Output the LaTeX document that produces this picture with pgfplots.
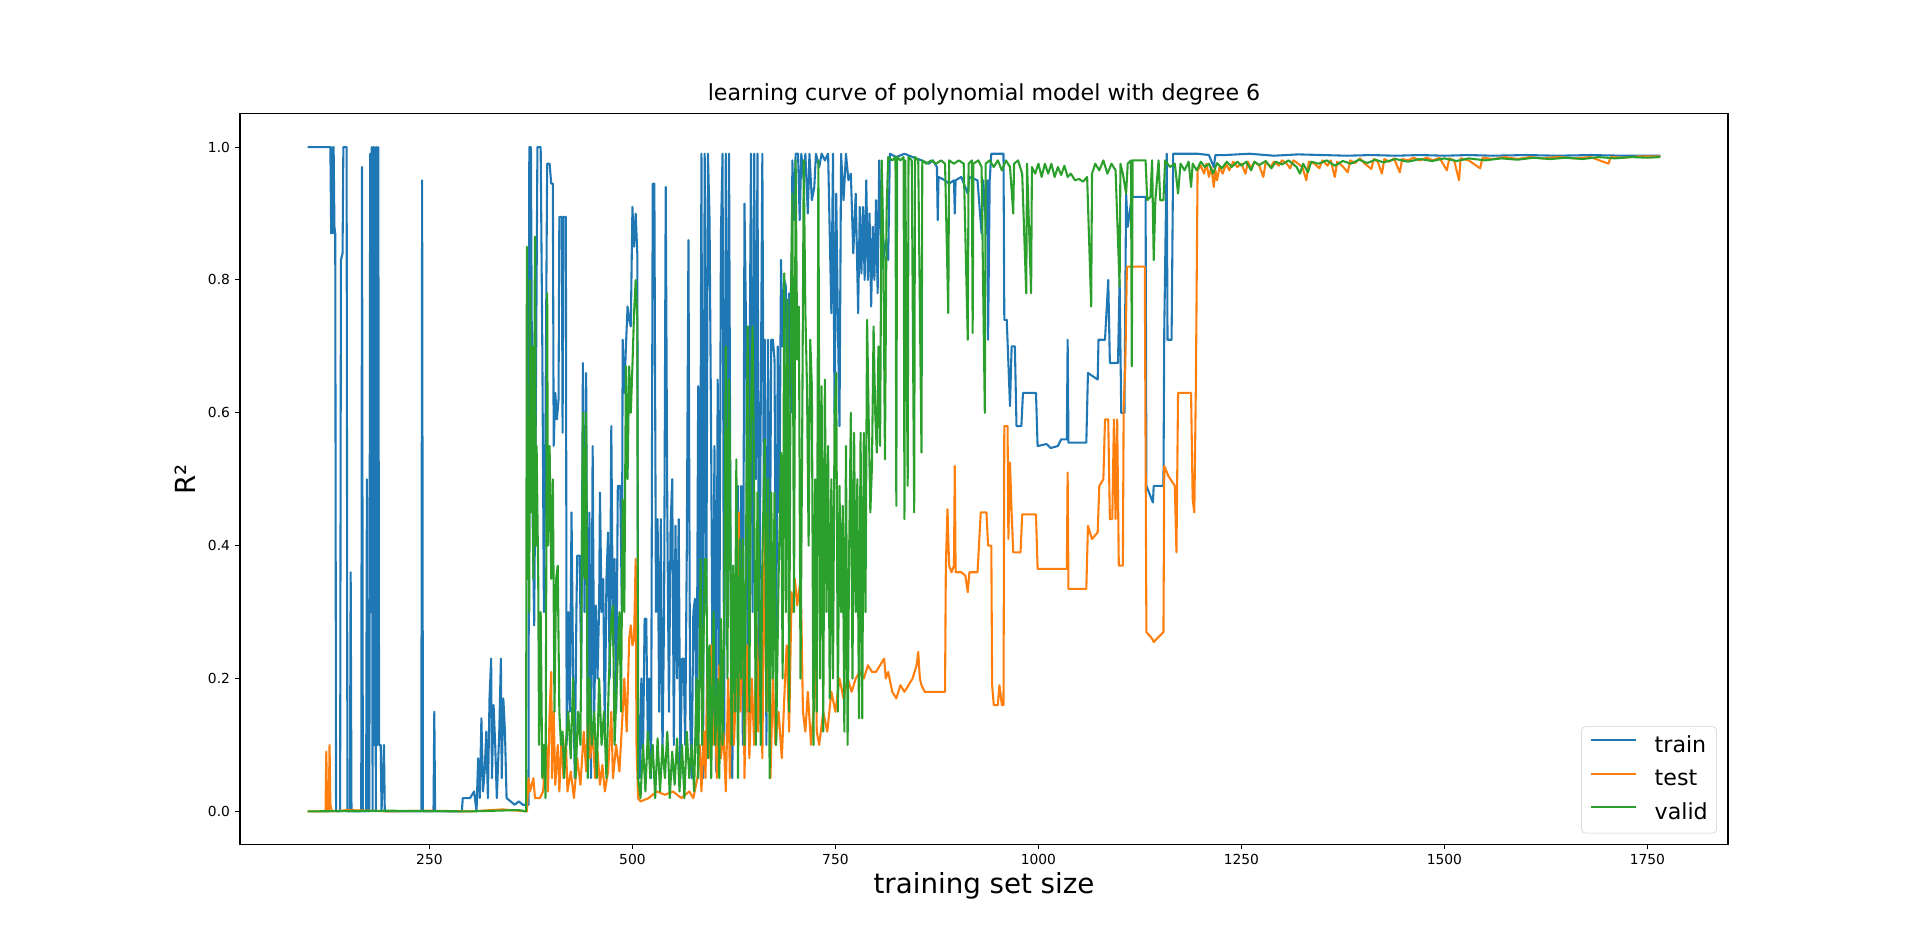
\documentclass[border=0pt]{standalone}
\usepackage{pgfplots}
\pgfplotsset{compat=1.18}
\usepackage{fontspec}
\setmainfont{DejaVu Sans}
\definecolor{c0}{HTML}{1F77B4}
\definecolor{c1}{HTML}{FF7F0E}
\definecolor{c2}{HTML}{2CA02C}
\begin{document}
\begin{tikzpicture}
\useasboundingbox (0,0) rectangle (1382.4bp,683.28bp);
\begin{axis}[
  name=ax,
  at={(172.8bp,75.16bp)}, anchor=south west,
  scale only axis, width=1071.36bp, height=526.13bp,
  xmin=16.7, xmax=1849.3, ymin=-0.05, ymax=1.05,
  axis line style={line width=0.8bp},
  tick align=outside, xtick pos=left, ytick pos=left,
  major tick length=3.5bp,
  every tick/.style={black, line width=0.8bp},
  xtick={250,500,750,1000,1250,1500,1750},
  ytick={0,0.2,0.4,0.6,0.8,1.0},
  scaled x ticks=false, scaled y ticks=false,
  /pgf/number format/assume math mode=true,
  xticklabel style={font=\fontsize{10}{12}\selectfont, /pgf/number format/1000 sep={}, inner sep=0pt, yshift=-3.5bp},
  yticklabel style={font=\fontsize{10}{12}\selectfont, /pgf/number format/.cd, fixed, fixed zerofill, precision=1, /tikz/.cd, inner sep=0pt, xshift=-3.5bp},
  legend cell align=left,
  legend style={at={(1,0)}, anchor=south east, xshift=-8bp, yshift=8bp,
    draw=black!20, rounded corners=3bp, fill=white,
    inner xsep=6.4bp, inner ysep=6.4bp,
    font=\fontsize{16}{19}\selectfont,
    nodes={inner sep=0pt, text height=12.2bp, text depth=3.8bp},
    row sep=8bp,
    /tikz/every odd column/.append style={column sep=12.8bp}},
  legend image code/.code={\draw[#1] (0bp,4.5bp) -- (32bp,4.5bp);},
  every axis plot/.append style={line width=1.5bp, line join=round},
]
% train
\addplot[c0] coordinates {
(100,1.0) (128,1.0) (129,0.87) (130,1.0) (131,0.87) (132,1.0) (133,0.88) (134,0.87) (135,0.0) (140,0.0) (141,0.83) (143,0.84) (144,1.0) (148,1.0) (149,0.0) (152,0.0) (153,0.36) (154,0.0) (166,0.0) (167,0.97) (168,0.0) (172,0.0) (173,0.5) (174,0.0) (176,0.0) (177,0.99) (178,0.3) (179,1.0) (180,0.0) (181,1.0) (182,0.1) (183,1.0) (184,0.0) (185,1.0) (186,0.1) (187,1.0) (188,0.1) (190,0.1) (191,0.0) (194,0.1) (195,0.0) (240,0.0) (241,0.95) (242,0.0) (255,0.0) (256,0.15) (257,0.0) (290,0.0) (291,0.02) (300,0.02) (305,0.03) (308,0.0) (310,0.08) (312,0.02) (314,0.14) (316,0.03) (318,0.06) (320,0.12) (322,0.02) (324,0.17) (326,0.23) (327,0.05) (329,0.16) (331,0.1) (333,0.02) (336,0.12) (338,0.23) (339,0.05) (341,0.17) (343,0.12) (345,0.02) (350,0.015) (355,0.01) (360,0.015) (365,0.01) (372,0.01)
(373,1.0) (375,1.0) (377,0.45) (379,0.28) (381,0.6) (383,1.0) (387,1.0) (389,0.7) (391,0.3) (393,0.6) (395,0.975) (398,0.975) (400,0.945) (402,0.945) (403,0.55) (405,0.63) (407,0.59) (409,0.62) (410,0.895) (413,0.895) (414,0.57) (415,0.895) (418,0.895) (419,0.1) (421,0.3) (423,0.15) (425,0.45) (427,0.2) (429,0.05) (431,0.3) (432,0.385) (435,0.385) (437,0.2) (439,0.675) (441,0.3) (443,0.66) (445,0.1) (447,0.45) (449,0.05) (451,0.55) (453,0.15) (455,0.31) (457,0.2) (459,0.31) (460,0.48) (462,0.3) (464,0.35) (466,0.12) (468,0.35) (470,0.42) (472,0.2) (474,0.58) (476,0.25) (478,0.38) (480,0.15) (482,0.49) (485,0.49) (487,0.3) (488,0.71) (490,0.63) (492,0.7) (494,0.76) (496,0.74) (498,0.73) (500,0.91) (502,0.85) (504,0.9) (506,0.84) (507,0.15) (509,0.05) (511,0.2) (513,0.08) (515,0.29) (517,0.29) (519,0.1) (521,0.2) (523,0.05) (525,0.945) (527,0.945) (529,0.3) (531,0.44) (533,0.15) (535,0.44) (537,0.08) (539,0.3) (541,0.94) (543,0.44) (545,0.15) (547,0.43) (549,0.5) (551,0.1) (553,0.43) (555,0.2) (557,0.44) (559,0.05) (561,0.23) (563,0.23) (565,0.1) (567,0.4) (569,0.86) (571,0.15) (573,0.05) (575,0.3) (577,0.32) (579,0.1) (581,0.64) (583,0.2) (585,0.99) (587,0.05) (589,0.99) (591,0.3) (593,0.99) (595,0.89) (597,0.55) (599,0.1) (601,0.55) (603,0.06) (605,0.65) (607,0.2) (609,0.87) (611,0.99) (613,0.1) (615,0.99) (617,0.4) (619,0.99) (621,0.34) (623,0.05) (625,0.34) (627,0.15) (630,0.49) (632,0.2) (634,0.49) (636,0.1) (638,0.915) (640,0.72) (642,0.15) (644,0.6) (646,0.99) (648,0.3) (650,0.99) (652,0.5) (654,0.99) (656,0.2) (658,0.6) (660,0.99) (662,0.4) (663,0.71) (665,0.1) (667,0.71) (669,0.3) (671,0.71) (673,0.71) (675,0.68) (677,0.2) (679,0.7) (681,0.45) (683,0.83) (685,0.7) (687,0.8) (689,0.79) (691,0.54) (693,0.78) (695,0.6) (697,0.98) (699,0.89) (701,0.99) (704,0.99) (706,0.89) (708,0.99) (711,0.95) (713,0.99) (716,0.9) (718,0.99) (721,0.92) (724,0.94) (726,0.99) (730,0.97) (733,0.99) (737,0.98) (741,0.99) (745,0.75) (747,0.99) (749,0.58) (751,0.93) (753,0.74) (755,0.58) (757,0.99) (760,0.92) (763,0.99) (766,0.95) (769,0.96) (772,0.84) (775,0.93) (778,0.75) (780,0.91) (782,0.81) (784,0.91) (786,0.8) (788,0.95) (790,0.8) (792,0.9) (794,0.76) (796,0.88) (798,0.8) (800,0.92) (802,0.78) (804,0.98) (806,0.87) (809,0.83) (812,0.86) (815,0.83) (817,0.99) (825,0.985) (835,0.99) (845,0.985) (856,0.98) (865,0.975) (870,0.98) (875,0.97) (876,0.89) (877,0.955) (885,0.95) (890,0.945) (896,0.95) (897,0.9) (898,0.95) (905,0.955) (913,0.93) (915,0.955) (925,0.95) (930,0.87) (932,0.95) (936,0.87) (937,0.95) (938,0.71) (940,0.95) (942,0.99) (957,0.99) (958,0.74) (961,0.74) (965,0.61) (967,0.7) (971,0.7) (973,0.58) (979,0.58) (981,0.63) (997,0.63) (999,0.55) (1010,0.553) (1015,0.547) (1024,0.55) (1028,0.56) (1035,0.56) (1036,0.71) (1037,0.555) (1059,0.555) (1061,0.66) (1073,0.65) (1074,0.71) (1082,0.71) (1086,0.8) (1088,0.675) (1098,0.675) (1100,0.8) (1102,0.6) (1106,0.6) (1108,0.93) (1110,0.88) (1115,0.925) (1132,0.925) (1133,0.49) (1141,0.465) (1142,0.49) (1154,0.49) (1155,0.725) (1158,0.99) (1159,0.71) (1164,0.71) (1166,0.99) (1196,0.99) (1210,0.988) (1216,0.97) (1218,0.988) (1230,0.988) (1260,0.99) (1290,0.987) (1320,0.989) (1350,0.988) (1380,0.987) (1410,0.988) (1440,0.987) (1470,0.988) (1500,0.987) (1530,0.988) (1560,0.987) (1600,0.988) (1640,0.987) (1680,0.988) (1720,0.987) (1766,0.987)
};
\addlegendentry{train}
% test
\addplot[c1] coordinates {
(100,0.0) (122,0.0) (123,0.09) (124,0.0) (126,0.0) (127,0.1) (128,0.01) (130,0.0) (150,0.002) (200,0.0) (250,0.001) (300,0.0) (340,0.003) (370,0.0)
(372,0.05) (374,0.03) (378,0.05) (380,0.02) (386,0.02) (390,0.03) (394,0.1) (396,0.03) (398,0.15) (400,0.21) (401,0.05) (403,0.15) (405,0.04) (408,0.1) (410,0.03) (413,0.12) (415,0.05) (418,0.11) (420,0.03) (424,0.06) (428,0.02) (432,0.08) (436,0.04) (440,0.12) (443,0.06) (446,0.17) (448,0.08) (451,0.12) (454,0.05) (457,0.09) (460,0.04) (463,0.07) (466,0.03) (470,0.06) (474,0.15) (476,0.05) (480,0.1) (484,0.06) (488,0.15) (490,0.2) (493,0.12) (496,0.26) (498,0.28) (500,0.25) (502,0.26) (504,0.38) (505,0.1) (507,0.02) (510,0.015) (520,0.02) (530,0.03) (540,0.025) (550,0.03) (560,0.02) (570,0.03) (575,0.02) (580,0.05) (583,0.1) (585,0.03) (588,0.12) (590,0.05) (592,0.2) (594,0.08) (597,0.25) (599,0.1) (602,0.15) (604,0.05) (607,0.22) (609,0.08) (612,0.12) (615,0.03) (618,0.2) (620,0.05) (623,0.3) (625,0.1) (628,0.2) (631,0.45) (633,0.15) (636,0.35) (638,0.05) (641,0.25) (644,0.08) (647,0.2) (650,0.1) (653,0.28) (655,0.12) (658,0.3) (660,0.08) (663,0.45) (665,0.15) (668,0.35) (670,0.05) (673,0.2) (676,0.1) (680,0.15) (684,0.08) (688,0.2) (690,0.25) (693,0.12) (696,0.33) (698,0.3) (700,0.35) (703,0.31) (706,0.34) (708,0.3) (710,0.15) (713,0.12) (716,0.18) (720,0.1) (723,0.15) (726,0.26) (727,0.12) (730,0.1) (735,0.15) (740,0.12) (745,0.18) (750,0.15) (755,0.2) (760,0.17) (765,0.2) (770,0.18) (775,0.2) (780,0.21) (785,0.2) (790,0.22) (795,0.21) (800,0.21) (805,0.22) (810,0.23) (812,0.2) (815,0.21) (820,0.18) (825,0.17) (830,0.19) (835,0.18) (840,0.19) (845,0.2) (850,0.22) (852,0.24) (854,0.2) (856,0.19) (860,0.18) (870,0.18) (880,0.18) (885,0.18) (886,0.37) (888,0.455) (890,0.37) (893,0.36) (896,0.37) (897,0.52) (898,0.36) (905,0.36) (910,0.355) (913,0.33) (915,0.36) (925,0.36) (929,0.45) (936,0.45) (938,0.40) (942,0.40) (943,0.19) (945,0.16) (950,0.16) (952,0.19) (955,0.16) (957,0.16) (958,0.58) (962,0.58) (963,0.41) (965,0.525) (967,0.45) (969,0.39) (978,0.39) (980,0.447) (997,0.447) (999,0.365) (1035,0.365) (1036,0.51) (1037,0.335) (1059,0.335) (1061,0.43) (1066,0.41) (1073,0.42) (1075,0.49) (1080,0.5) (1082,0.59) (1086,0.59) (1088,0.44) (1091,0.44) (1093,0.59) (1095,0.44) (1097,0.59) (1099,0.37) (1104,0.37) (1105,0.61) (1107,0.67) (1109,0.82) (1131,0.82) (1133,0.27) (1140,0.26) (1142,0.255) (1150,0.265) (1154,0.27) (1155,0.52) (1160,0.505) (1168,0.49) (1170,0.39) (1172,0.63) (1188,0.63) (1190,0.47) (1192,0.45) (1194,0.65) (1196,0.965)
(1200,0.972) (1204,0.96) (1207,0.975) (1210,0.955) (1213,0.97) (1216,0.94) (1218,0.965) (1220,0.95) (1223,0.97) (1227,0.96) (1231,0.975) (1235,0.965) (1240,0.978) (1245,0.97) (1250,0.975) (1255,0.96) (1258,0.978) (1262,0.968) (1266,0.978) (1272,0.972) (1277,0.955) (1280,0.978) (1286,0.97) (1290,0.978) (1296,0.972) (1300,0.98) (1306,0.975) (1310,0.968) (1314,0.98) (1320,0.975) (1325,0.97) (1330,0.95) (1333,0.978) (1340,0.975) (1346,0.968) (1350,0.98) (1356,0.972) (1360,0.98) (1365,0.955) (1368,0.978) (1374,0.972) (1381,0.962) (1384,0.98) (1390,0.976) (1396,0.983) (1402,0.975) (1410,0.967) (1413,0.982) (1418,0.978) (1423,0.96) (1426,0.982) (1432,0.978) (1438,0.983) (1445,0.962) (1448,0.982) (1455,0.98) (1462,0.984) (1470,0.98) (1478,0.984) (1486,0.98) (1494,0.984) (1503,0.965) (1506,0.983) (1512,0.98) (1518,0.95) (1520,0.983) (1530,0.98) (1544,0.968) (1547,0.984) (1560,0.982) (1575,0.985) (1590,0.982) (1605,0.985) (1620,0.983) (1640,0.985) (1660,0.983) (1680,0.985) (1702,0.975) (1705,0.985) (1720,0.984) (1740,0.986) (1766,0.986)
};
\addlegendentry{test}
% valid
\addplot[c2] coordinates {
(100,0.0) (200,0.001) (300,0.0) (360,0.002) (369,0.0)
(370,0.85) (371,0.35) (372,0.55) (373,0.3) (374,0.8) (375,0.55) (376,0.45) (377,0.7) (378,0.35) (380,0.865) (381,0.4) (382,0.55) (384,0.35) (385,0.1) (387,0.3) (389,0.05) (391,0.1) (393,0.02) (395,0.78) (396,0.4) (398,0.55) (400,0.35) (402,0.5) (404,0.15) (406,0.35) (408,0.37) (410,0.15) (412,0.1) (414,0.12) (416,0.05) (418,0.1) (421,0.15) (424,0.08) (427,0.2) (430,0.05) (433,0.15) (436,0.1) (439,0.6) (441,0.35) (443,0.6) (445,0.05) (447,0.2) (450,0.1) (453,0.15) (456,0.05) (459,0.2) (462,0.1) (465,0.15) (468,0.05) (471,0.2) (474,0.29) (476,0.31) (478,0.1) (481,0.2) (484,0.3) (486,0.15) (488,0.47) (490,0.3) (492,0.67) (494,0.5) (496,0.67) (498,0.6) (500,0.67) (502,0.75) (504,0.8) (506,0.74) (507,0.05) (510,0.02) (513,0.1) (516,0.03) (519,0.12) (522,0.05) (525,0.1) (528,0.02) (531,0.11) (534,0.03) (537,0.1) (540,0.05) (543,0.12) (546,0.02) (549,0.09) (552,0.04) (555,0.11) (558,0.03) (561,0.1) (564,0.02) (567,0.12) (570,0.05) (573,0.1) (576,0.03) (579,0.2) (581,0.05) (584,0.38) (586,0.1) (589,0.38) (591,0.38) (593,0.08) (595,0.25) (597,0.05) (600,0.3) (602,0.1) (605,0.2) (607,0.05) (609,0.29) (611,0.1) (613,0.29) (615,0.7) (617,0.2) (619,0.65) (620,0.55) (622,0.1) (624,0.37) (626,0.15) (628,0.53) (630,0.05) (632,0.41) (634,0.2) (636,0.41) (638,0.1) (640,0.41) (642,0.73) (644,0.15) (646,0.6) (648,0.73) (650,0.48) (652,0.1) (654,0.48) (656,0.38) (658,0.1) (660,0.38) (663,0.56) (665,0.15) (667,0.5) (669,0.05) (671,0.48) (673,0.2) (675,0.48) (677,0.1) (680,0.35) (683,0.54) (685,0.2) (687,0.81) (689,0.3) (691,0.77) (693,0.15) (695,0.76) (697,0.93) (699,0.3) (701,0.98) (703,0.68) (705,0.76) (707,0.2) (709,0.55) (711,0.98) (713,0.75) (715,0.64) (717,0.4) (719,0.71) (721,0.64) (723,0.1) (725,0.5) (727,0.15) (729,0.98) (731,0.2) (733,0.64) (735,0.12) (737,0.65) (739,0.3) (741,0.55) (743,0.17) (745,0.5) (747,0.2) (749,0.6) (751,0.66) (753,0.15) (755,0.49) (757,0.3) (759,0.46) (761,0.12) (763,0.55) (765,0.1) (767,0.4) (769,0.6) (771,0.2) (773,0.57) (775,0.3) (777,0.5) (779,0.14) (781,0.57) (783,0.14) (785,0.57) (787,0.3) (789,0.74) (791,0.59) (793,0.45) (795,0.52) (797,0.73) (799,0.6) (801,0.54) (803,0.7) (805,0.55) (807,0.98) (809,0.86) (811,0.53) (813,0.9) (815,0.985) (820,0.98) (824,0.985) (825,0.46) (826,0.985) (830,0.98) (834,0.985) (835,0.44) (836,0.98) (839,0.49) (840,0.985) (844,0.98) (847,0.45) (848,0.985) (852,0.98) (856,0.54) (857,0.98) (862,0.975) (868,0.98) (874,0.975) (880,0.98) (885,0.975) (889,0.75) (890,0.98) (896,0.975) (902,0.98) (908,0.975) (913,0.71) (914,0.975) (918,0.98) (919,0.72) (920,0.975) (926,0.98) (930,0.97) (934,0.6) (935,0.975) (940,0.98) (945,0.97) (950,0.98) (955,0.965) (960,0.98) (965,0.97) (969,0.9) (970,0.975) (975,0.98) (980,0.96) (985,0.78) (986,0.975) (991,0.78) (992,0.97) (996,0.96) (1000,0.975) (1004,0.955) (1008,0.975) (1012,0.96) (1016,0.975) (1020,0.955) (1024,0.97) (1028,0.958) (1032,0.972) (1036,0.955) (1040,0.96) (1045,0.95) (1050,0.952) (1055,0.948) (1060,0.955) (1065,0.76) (1066,0.96) (1070,0.975) (1075,0.965) (1080,0.98) (1085,0.96) (1090,0.975) (1095,0.965) (1100,0.79) (1101,0.975) (1104,0.96) (1108,0.93) (1110,0.975) (1114,0.98) (1115,0.67) (1116,0.98) (1125,0.98) (1132,0.98) (1134,0.92) (1138,0.925) (1140,0.98) (1142,0.83) (1144,0.92) (1148,0.98) (1150,0.92) (1154,0.92) (1156,0.98) (1162,0.97) (1168,0.975)
(1172,0.93) (1175,0.975) (1180,0.965) (1185,0.978) (1188,0.94) (1190,0.975) (1195,0.965) (1200,0.978) (1205,0.97) (1210,0.975) (1215,0.96) (1220,0.976) (1226,0.968) (1232,0.978) (1238,0.97) (1245,0.978) (1250,0.972) (1256,0.978) (1262,0.965) (1266,0.978) (1272,0.973) (1280,0.979) (1287,0.968) (1292,0.978) (1300,0.974) (1308,0.98) (1318,0.97) (1322,0.96) (1326,0.975) (1332,0.962) (1336,0.978) (1345,0.975) (1355,0.98) (1365,0.972) (1375,0.979) (1385,0.975) (1395,0.981) (1405,0.976) (1415,0.981) (1425,0.977) (1440,0.982) (1455,0.978) (1470,0.982) (1485,0.979) (1500,0.983) (1515,0.979) (1530,0.983) (1550,0.98) (1570,0.983) (1590,0.981) (1610,0.984) (1630,0.982) (1650,0.984) (1670,0.982) (1690,0.985) (1710,0.983) (1730,0.985) (1750,0.984) (1766,0.985)
};
\addlegendentry{valid}
\end{axis}
\path (ax.north) ++(0,9.5bp) node[anchor=base, inner sep=0pt, font=\fontsize{16}{19}\selectfont] {learning curve of polynomial model with degree 6};
\path (ax.south) ++(0,-35bp) node[anchor=base, inner sep=0pt, font=\fontsize{20}{24}\selectfont] {training set size};
\path (ax.west) ++(-31.7bp,0) node[anchor=base, rotate=90, inner sep=0pt, font=\fontsize{20}{24}\selectfont] {R²};
\end{tikzpicture}
\end{document}
